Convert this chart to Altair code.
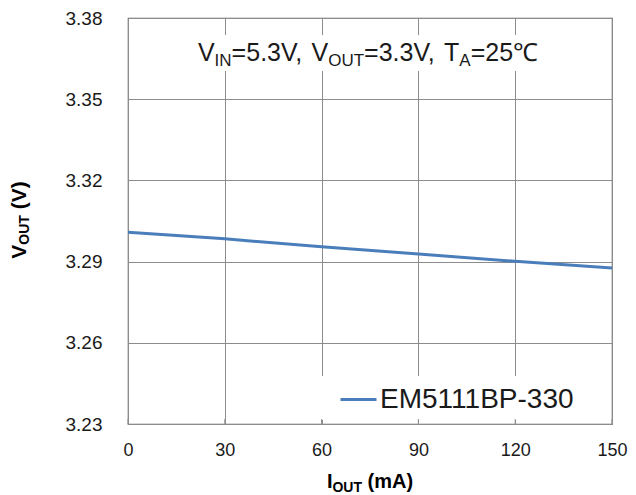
import altair as alt
import pandas as pd

# ---- data ----
iout = [0, 30, 60, 90, 120, 150]
vout = [3.3008, 3.2984, 3.2955, 3.2928, 3.2901, 3.2876]
series_name = "EM5111BP-330"
x_ticks = [0, 30, 60, 90, 120, 150]
y_ticks = [3.23, 3.26, 3.29, 3.32, 3.35, 3.38]

# rich-text pieces (text, is_subscript)
note_texts = ["V", "IN", "=5.3V, ", "V", "OUT", "=3.3V, ", "T", "A", "=25℃"]
note_sub = [False, True, False, False, True, False, False, True, False]
xtitle_texts = ["I", "OUT", " (mA)"]
xtitle_sub = [False, True, False]
ytitle_texts = ["V", "OUT", " (V)"]
ytitle_sub = [False, True, False]

W, H = 484, 406
FONT = "Liberation Sans"
BLUE = "#4a7ebb"
GRID = "#8c8c8c"

# approximate Arial advance widths (em) for laying out rich-text pieces
REG = {"V": .667, "I": .278, "N": .722, "O": .778, "U": .722, "T": .611,
       "A": .667, "=": .584, ".": .278, ",": .278, " ": .278, "(": .333,
       ")": .333, "m": .833, "℃": 1.0}
BOLD = {"V": .667, "I": .278, "O": .778, "U": .722, "T": .611, "A": .722,
        " ": .278, "(": .333, ")": .333, "m": .889}


def tw(s, size, table):
    return sum(table.get(c, .556) for c in s) * size


def chain(texts, subs, size, subsize, table, center):
    """Return (visible_text, offset) pairs laid out end to end around center."""
    sizes = [subsize if s else size for s in subs]
    widths = [tw(t, z, table) for t, z in zip(texts, sizes)]
    start = center - sum(widths) / 2
    out = []
    for t, z, w in zip(texts, sizes, widths):
        lead = len(t) - len(t.lstrip(" "))
        out.append((t.strip(" "), start + lead * table[" "] * z))
        start += w
    return out


df = pd.DataFrame({"iout": iout, "vout": vout, "series": [series_name] * len(iout)})
tick_df = pd.DataFrame({"iout": x_ticks})

xscale = alt.Scale(domain=[0, 150], nice=False, zero=False)
yscale = alt.Scale(domain=[3.23, 3.38], nice=False, zero=False)

x_axis = alt.Axis(values=x_ticks, title=None, grid=True, gridColor=GRID,
                  labelFontSize=18, labelPadding=17, labelFont=FONT,
                  labelColor="#1a1a1a", domain=False, ticks=False,
                  labelFlush=False)
y_axis = alt.Axis(values=y_ticks, format=".2f", title=None, grid=True,
                  gridColor=GRID, labelFontSize=19, labelPadding=26,
                  labelFont=FONT, labelColor="#1a1a1a", domain=False,
                  ticks=False, labelFlush=False)

line = alt.Chart(df).mark_line(strokeWidth=3).encode(
    x=alt.X("iout:Q", scale=xscale, axis=x_axis),
    y=alt.Y("vout:Q", scale=yscale, axis=y_axis),
    color=alt.Color("series:N", scale=alt.Scale(range=[BLUE]),
                    legend=alt.Legend(title=None, orient="none",
                                      legendX=211, legendY=362,
                                      symbolType="stroke", symbolSize=1296,
                                      symbolStrokeWidth=3, labelFontSize=28,
                                      labelFont=FONT, labelColor="#1a1a1a",
                                      labelOffset=2, padding=0,
                                      labelLimit=400)),
)

legend_box = alt.Chart(pd.DataFrame({"a": [0]})).mark_rect(color="white").encode(
    x=alt.value(189), x2=alt.value(481), y=alt.value(358), y2=alt.value(402))
note_box = alt.Chart(pd.DataFrame({"a": [0]})).mark_rect(color="white").encode(
    x=alt.value(36), x2=alt.value(446), y=alt.value(17), y2=alt.value(53))

inner_ticks = alt.Chart(tick_df).mark_rule(color=GRID, strokeWidth=1).encode(
    x=alt.X("iout:Q", scale=xscale),
    y=alt.value(H - 5), y2=alt.value(H))

layers = [legend_box, note_box, inner_ticks, line]

# top annotation
NS, NSUB = 25, 17
for (t, left), sub in zip(chain(note_texts, note_sub, NS, NSUB, REG, 240), note_sub):
    layers.append(
        alt.Chart(pd.DataFrame({"t": [t]})).mark_text(
            align="left", baseline="alphabetic", font=FONT,
            fontSize=NSUB if sub else NS, color="#1a1a1a").encode(
            text="t:N", x=alt.value(left), y=alt.value(48 if sub else 43)))

# x axis title: I_OUT (mA)
XS, XSUB = 20, 14
for (t, left), sub in zip(chain(xtitle_texts, xtitle_sub, XS, XSUB, BOLD, 242), xtitle_sub):
    layers.append(
        alt.Chart(pd.DataFrame({"t": [t]})).mark_text(
            align="left", baseline="alphabetic", font=FONT, fontWeight="bold",
            fontSize=XSUB if sub else XS, color="#000000").encode(
            text="t:N", x=alt.value(left), y=alt.value(474 if sub else 470)))

# y axis title: V_OUT (V)  (rotated, reads bottom to top)
YS, YSUB = 21, 14
for (t, off), sub in zip(chain(ytitle_texts, ytitle_sub, YS, YSUB, BOLD, 0), ytitle_sub):
    layers.append(
        alt.Chart(pd.DataFrame({"t": [t]})).mark_text(
            align="left", baseline="alphabetic", font=FONT, fontWeight="bold",
            angle=270, fontSize=YSUB if sub else YS, color="#000000").encode(
            text="t:N", x=alt.value(-99 if sub else -102),
            y=alt.value(202 - off)))

chart = alt.layer(*layers).properties(
    width=W, height=H,
    autosize=alt.AutoSizeParams(type="none"),
    padding={"left": 120, "top": 10, "right": 16, "bottom": 70},
).configure_view(stroke="#666666", strokeWidth=1.2)

chart.save("out.html", embed_options={"renderer": "svg", "actions": False})
